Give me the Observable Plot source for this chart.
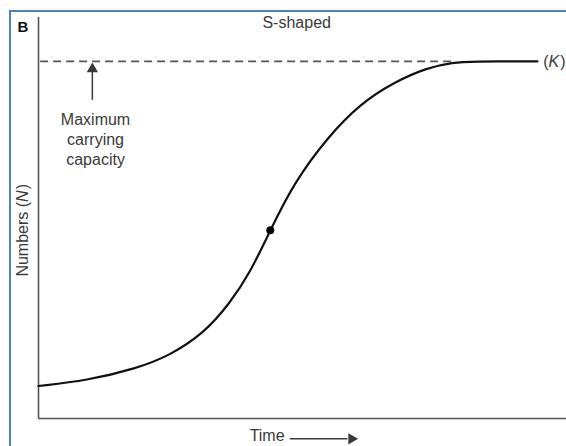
<!DOCTYPE html>
<html>
<head>
<meta charset="utf-8">
<script src="https://cdn.jsdelivr.net/npm/d3@7"></script>
<script src="https://cdn.jsdelivr.net/npm/@observablehq/plot@0.6"></script>
<style>
  html, body { margin: 0; padding: 0; background: white; }
  #wrap { position: relative; width: 566px; height: 446px; overflow: hidden; }
  #border { position: absolute; left: 9px; top: 10px; width: 600px; height: 500px;
            border-top: 2px solid #4f81bd; border-left: 2px solid #4f81bd; pointer-events: none; }
  svg { font-family: "Liberation Sans", Arial, Helvetica, sans-serif; }
</style>
</head>
<body>
<div id="wrap"><div id="border"></div></div>
<script>
// Curve readings (time in arbitrary units, N as % of carrying capacity K)
const time    = [0, 9.1, 18.6, 24.8, 31.3, 36.2, 40.0, 43.9, 48.3, 54.7, 61.0, 67.2, 73.7, 78.6, 81.8, 94.5];
const numbers = [9.1, 10.6, 14.0, 17.6, 23.8, 32.2, 40.6, 52.7, 65.8, 78.7, 88.2, 94.1, 98.3, 99.7, 100, 100];
const K = 100;
const inflectionTime = 43.9;
const inflectionN = 52.7;
const labels = {
  panel: "B",
  title: "S-shaped",
  note: "Maximum\ncarrying\ncapacity",
  k: "(K)",
  y: "Numbers (N)",
  x: "Time"
};

const curve = time.map((t, i) => ({t, n: numbers[i]}));
const ink = "#3a3a3a";

const chart = Plot.plot({
  width: 566,
  height: 446,
  marginLeft: 38,
  marginRight: 0,
  marginTop: 17,
  marginBottom: 28,
  x: {domain: [0, 100], axis: null},
  y: {domain: [0, 112.3], axis: null},
  style: {background: "transparent", fontFamily: "Liberation Sans, Arial, sans-serif"},
  marks: [
    // axes
    Plot.ruleX([0], {y1: 0, y2: 112.3, stroke: "#555", strokeWidth: 1.6}),
    Plot.ruleY([0], {stroke: "#555", strokeWidth: 1.6}),
    // carrying capacity dashed line
    Plot.ruleY([K], {x1: 0.4, x2: 78.6, stroke: "#555", strokeWidth: 1.6, strokeDasharray: "8,5"}),
    // S curve
    Plot.line(curve, {x: "t", y: "n", curve: "basis", stroke: "#111", strokeWidth: 2.2}),
    Plot.dot([{t: inflectionTime, n: inflectionN}], {x: "t", y: "n", r: 4, fill: "#000", stroke: "none"}),
    // arrow to K
    Plot.ruleX([10.2], {y1: 89.1, y2: 97.5, stroke: ink, strokeWidth: 1.5}),
    Plot.dot([{t: 10.2, n: 97.9}], {x: "t", y: "n", symbol: "triangle", r: 4.2, fill: ink, stroke: "none"}),
    Plot.text([labels.note], {x: 10.8, y: 78.4, text: d => d, fontSize: 16, lineHeight: 1.25, fill: ink, textAnchor: "middle"}),
    // labels
    Plot.text([labels.title], {x: 48.9, y: 110.9, text: d => d, fontSize: 16, fill: ink}),
    Plot.text([labels.k], {x: 100, y: 100, dx: -1, text: d => d, fontSize: 16, fill: ink, textAnchor: "end"}),
    Plot.text([labels.panel], {x: -4.0, y: 109.6, text: d => d, fontSize: 15, fontWeight: "bold", fill: "#111", textAnchor: "start"}),
    Plot.text([labels.y], {x: -3.0, y: 52.7, text: d => d, fontSize: 16, fill: ink, rotate: -90}),
    Plot.text([labels.x], {x: 43.3, y: -4.8, text: d => d, fontSize: 16, fill: ink}),
    // time arrow
    Plot.ruleY([-5.7], {x1: 47.7, x2: 58.6, stroke: ink, strokeWidth: 1.5}),
    Plot.dot([{t: 59.3, n: -5.7}], {x: "t", y: "n", symbol: "triangle", r: 4.2, rotate: 90, fill: ink, stroke: "none"})
  ]
});

// italicize the variable letters N and K
d3.select(chart).selectAll("text").each(function() {
  const el = d3.select(this);
  if (el.select("tspan").size()) return;
  const txt = el.text();
  const m = txt.match(/^(.*\()([NK])(\))$/);
  if (m) {
    el.text(null);
    el.append("tspan").text(m[1]);
    el.append("tspan").attr("font-style", "italic").text(m[2]);
    el.append("tspan").attr("dx", "1").text(m[3]);
  }
});

document.getElementById("wrap").prepend(chart);
</script>
</body>
</html>
